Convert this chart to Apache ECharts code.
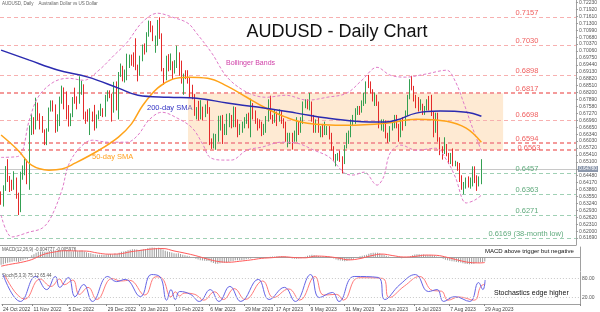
<!DOCTYPE html>
<html><head><meta charset="utf-8">
<script src="https://cdn.jsdelivr.net/npm/echarts@6/dist/echarts.min.js"></script>
<style>html,body{margin:0;padding:0;background:#fff}#c{width:600px;height:312px}</style>
</head><body><div id="c"></div>
<script>
// ---- price data (daily bars from 24 Oct 2022 to 29 Aug 2023) ----
const opens=[.6365,.6335,.6392,.6476,.6434,.6425,.6397,.6420,.6356,.6294,.6453,.6484,.6495,.6425,.6665,.6703,.6668,.6745,.6717,.6678,
.6650,.6590,.6650,.6743,.6765,.6742,.6656,.6706,.6791,.6822,.6790,.6711,.6678,.6723,.6797,.6795,.6777,.6848,.6852,.6705,
.6700,.6695,.6720,.6702,.6673,.6712,.6730,.6745,.6718,.6797,.6812,.6805,.6733,.6862,.6743,.6905,.6928,.6888,.6903,.6960,
.6975,.6960,.6945,.6930,.6897,.6970,.7026,.7020,.7082,.7115,.7105,.7055,.7056,.7140,.7075,.6922,.6892,.6960,.6935,.6950,
.6910,.6960,.6990,.6930,.6870,.6900,.6893,.6877,.6815,.6800,.6730,.6740,.6725,.6745,.6730,.6750,.6740,.6590,.6575,.6600,
.6635,.6680,.6690,.6640,.6643,.6690,.6715,.6673,.6730,.6668,.6640,.6665,.6672,.6690,.6720,.6688,.6770,.6735,.6700,.6685,
.6680,.6650,.6665,.6700,.6780,.6710,.6700,.6725,.6710,.6725,.6690,.6680,.6610,.6620,.6628,.6610,.6630,.6660,.6648,.6690,
.6770,.6780,.6760,.6765,.6705,.6650,.6685,.6650,.6660,.6640,.6650,.6655,.6630,.6570,.6525,.6530,.6538,.6520,.6505,.6575,
.6620,.6625,.6695,.6705,.6740,.6745,.6738,.6765,.6775,.6865,.6860,.6825,.6795,.6802,.6775,.6670,.6680,.6690,.6620,.6612,
.6665,.6670,.6715,.6670,.6630,.6690,.6685,.6725,.6800,.6870,.6840,.6795,.6780,.6750,.6765,.6730,.6755,.6790,.6760,.6730,
.6650,.6725,.6610,.6565,.6560,.6575,.6545,.6515,.6535,.6500,.6505,.6480,.6425,.6395,.6400,.6410,.6402,.6415,.6480,.6420,
.6415,.6425];
const highs=[.6378,.6405,.6491,.6522,.6447,.6430,.6468,.6440,.6372,.6466,.6494,.6530,.6520,.6673,.6723,.6710,.6797,.6775,.6727,.6715,
.6655,.6660,.6753,.6785,.6785,.6767,.6723,.6802,.6851,.6843,.6825,.6764,.6727,.6800,.6842,.6803,.6893,.6873,.6857,.6735,
.6745,.6750,.6735,.6765,.6722,.6740,.6770,.6750,.6810,.6830,.6830,.6815,.6868,.6870,.6912,.6950,.6940,.6923,.6994,.6990,
.6990,.7000,.7063,.6945,.6985,.7035,.7040,.7090,.7142,.7140,.7120,.7075,.7145,.7157,.7085,.6930,.6985,.6992,.6995,.6960,
.6965,.7030,.7000,.6963,.6905,.6920,.6920,.6890,.6855,.6813,.6755,.6783,.6786,.6757,.6767,.6785,.6755,.6615,.6637,.6635,
.6716,.6717,.6720,.6680,.6725,.6728,.6720,.6758,.6755,.6700,.6680,.6690,.6710,.6725,.6730,.6793,.6773,.6740,.6705,.6700,
.6690,.6680,.6715,.6790,.6806,.6720,.6745,.6735,.6745,.6740,.6705,.6690,.6640,.6640,.6640,.6650,.6710,.6690,.6710,.6780,
.6790,.6790,.6818,.6780,.6720,.6700,.6710,.6670,.6680,.6690,.6670,.6670,.6640,.6580,.6545,.6550,.6560,.6535,.6585,.6640,
.6650,.6700,.6720,.6750,.6760,.6760,.6785,.6820,.6870,.6899,.6870,.6835,.6820,.6810,.6780,.6700,.6700,.6695,.6640,.6670,
.6690,.6720,.6720,.6680,.6700,.6710,.6740,.6810,.6880,.6895,.6850,.6810,.6800,.6790,.6770,.6760,.6790,.6805,.6810,.6735,
.6730,.6730,.6620,.6580,.6620,.6590,.6550,.6550,.6570,.6515,.6510,.6505,.6450,.6420,.6440,.6445,.6440,.6490,.6490,.6450,
.6445,.6522];
const lows=[.6318,.6310,.6380,.6420,.6375,.6380,.6385,.6345,.6272,.6285,.6430,.6450,.6410,.6385,.6630,.6633,.6655,.6695,.6655,.6640,
.6585,.6585,.6645,.6735,.6735,.6640,.6645,.6670,.6770,.6745,.6700,.6668,.6670,.6710,.6770,.6745,.6770,.6810,.6700,.6680,
.6690,.6630,.6690,.6650,.6660,.6700,.6715,.6710,.6712,.6780,.6795,.6690,.6730,.6740,.6700,.6890,.6870,.6865,.6875,.6930,
.6940,.6935,.6920,.6870,.6895,.6960,.6990,.7000,.7070,.7090,.7050,.6998,.7030,.7060,.6915,.6855,.6875,.6915,.6920,.6880,
.6905,.6930,.6895,.6860,.6810,.6880,.6860,.6800,.6790,.6716,.6700,.6695,.6700,.6695,.6710,.6725,.6585,.6568,.6570,.6564,
.6600,.6650,.6590,.6630,.6630,.6665,.6660,.6665,.6665,.6620,.6630,.6640,.6660,.6680,.6660,.6620,.6700,.6680,.6650,.6660,
.6625,.6630,.6640,.6690,.6700,.6680,.6685,.6670,.6690,.6680,.6660,.6600,.6575,.6590,.6565,.6600,.6600,.6630,.6640,.6680,
.6750,.6745,.6740,.6690,.6640,.6640,.6640,.6620,.6620,.6630,.6630,.6610,.6560,.6515,.6490,.6515,.6510,.6458,.6500,.6570,
.6590,.6620,.6670,.6680,.6720,.6720,.6730,.6760,.6770,.6840,.6815,.6780,.6760,.6760,.6660,.6650,.6645,.6615,.6595,.6600,
.6650,.6660,.6660,.6600,.6620,.6650,.6670,.6715,.6790,.6830,.6780,.6750,.6735,.6740,.6720,.6720,.6740,.6740,.6715,.6620,
.6640,.6600,.6540,.6520,.6545,.6535,.6500,.6500,.6490,.6490,.6470,.6420,.6385,.6365,.6390,.6395,.6390,.6400,.6415,.6380,
.6400,.6410];
const closes=[.6335,.6392,.6476,.6434,.6425,.6397,.6420,.6356,.6294,.6453,.6484,.6495,.6425,.6665,.6703,.6668,.6745,.6717,.6678,.6650,
.6590,.6650,.6743,.6765,.6742,.6656,.6706,.6791,.6822,.6790,.6711,.6678,.6723,.6797,.6795,.6777,.6848,.6852,.6705,.6700,
.6695,.6720,.6702,.6673,.6712,.6730,.6745,.6718,.6797,.6812,.6805,.6733,.6862,.6743,.6905,.6928,.6888,.6903,.6960,.6975,
.6960,.6945,.6930,.6897,.6970,.7026,.7020,.7082,.7115,.7105,.7055,.7056,.7140,.7075,.6922,.6892,.6960,.6935,.6950,.6910,
.6960,.6990,.6930,.6870,.6900,.6893,.6877,.6815,.6800,.6730,.6740,.6725,.6745,.6730,.6750,.6740,.6590,.6575,.6600,.6635,
.6680,.6690,.6640,.6643,.6690,.6715,.6673,.6730,.6668,.6640,.6665,.6672,.6690,.6720,.6688,.6770,.6735,.6700,.6685,.6680,
.6650,.6665,.6700,.6780,.6710,.6700,.6725,.6710,.6725,.6690,.6680,.6610,.6620,.6628,.6610,.6630,.6660,.6648,.6690,.6770,
.6780,.6760,.6765,.6705,.6650,.6685,.6650,.6660,.6640,.6650,.6655,.6630,.6570,.6525,.6530,.6538,.6520,.6505,.6575,.6620,
.6625,.6695,.6705,.6740,.6745,.6738,.6765,.6775,.6865,.6860,.6825,.6795,.6802,.6775,.6670,.6680,.6690,.6620,.6612,.6665,
.6670,.6715,.6670,.6630,.6690,.6685,.6725,.6800,.6870,.6840,.6795,.6780,.6750,.6765,.6730,.6755,.6790,.6760,.6730,.6650,
.6725,.6610,.6565,.6560,.6575,.6545,.6515,.6535,.6500,.6505,.6480,.6425,.6395,.6400,.6410,.6402,.6415,.6480,.6420,.6415,
.6425,.6478];

// ---- x axis tick labels ----
const tickLabels=['24 Oct 2022','11 Nov 2022','5 Dec 2022','29 Dec 2022','19 Jan 2023','10 Feb 2023','6 Mar 2023','29 Mar 2023','17 Apr 2023','9 May 2023','31 May 2023','22 Jun 2023','14 Jul 2023','7 Aug 2023','29 Aug 2023'];
const tickBars=[0,14,30,48,63,79,95,111,125,141,157,173,189,205,221];
const totalSlots=265;

// ---- horizontal levels ----
const resistanceLevels=[0.7157,0.7030,0.6898,0.6817,0.6698,0.6594,0.6563];
const supportLevels=[0.6457,0.6363,0.6271,0.6169];
const supportTexts=['0.6457','0.6363','0.6271','0.6169 (38-month low)'];
const currentPrice=0.6478;
const rangeBox={fromBar:86,toBar:231,top:0.6817,bottom:0.6563};

// ---- indicator readings (bar index, value) ----
const sma200=[[0,0.7010],[13,0.6965],[26,0.6921],[40,0.6889],[54,0.6840],[63,0.6808],[77,0.6799],[90,0.6795],[104,0.6773],[118,0.6755],[136,0.6728],[150,0.6706],[163,0.6692],[177,0.6688],[182,0.6697],[191,0.6728],[202,0.6737],[214,0.6732],[221,0.6714]];
const sma50=[[0,0.6630],[8,0.6560],[14,0.6495],[22,0.6473],[28,0.6478],[34,0.6504],[45,0.6562],[54,0.6621],[60,0.6680],[65,0.6760],[72,0.6840],[79,0.6880],[86,0.6889],[95,0.6884],[104,0.6849],[113,0.6799],[122,0.6750],[131,0.6710],[141,0.6683],[159,0.6674],[177,0.6683],[191,0.6701],[205,0.6692],[214,0.6661],[221,0.6598]];
const bbUpper=[[0,0.6530],[8,0.6535],[13,0.6697],[17,0.6799],[24,0.6866],[31,0.6884],[38,0.6875],[45,0.6920],[52,0.6987],[58,0.7045],[65,0.7135],[72,0.7175],[79,0.7157],[86,0.7130],[90,0.7085],[97,0.6996],[104,0.6889],[113,0.6822],[122,0.6799],[131,0.6808],[141,0.6786],[150,0.6799],[159,0.6817],[166,0.6875],[173,0.6933],[179,0.6898],[186,0.6889],[195,0.6902],[205,0.6920],[209,0.6870],[213,0.6770],[217,0.6660],[221,0.6560]];
const bbLower=[[0,0.6272],[5,0.6174],[13,0.6196],[19,0.6214],[23,0.6263],[28,0.6384],[31,0.6495],[36,0.6571],[42,0.6607],[49,0.6598],[58,0.6598],[63,0.6630],[68,0.6697],[74,0.6732],[81,0.6706],[88,0.6661],[93,0.6585],[96,0.6531],[102,0.6518],[106,0.6518],[113,0.6562],[120,0.6576],[129,0.6598],[136,0.6594],[144,0.6562],[151,0.6531],[158,0.6460],[162,0.6451],[167,0.6464],[173,0.6406],[176,0.6442],[179,0.6549],[184,0.6585],[191,0.6562],[200,0.6571],[205,0.6518],[209,0.6442],[214,0.6326],[218,0.6339],[221,0.6361]];

const macdHist=[-0.0085,-0.0080,-0.0068,-0.0062,-0.0056,-0.0052,-0.0047,-0.0048,-0.0054,-0.0044,
-0.0034,-0.0025,-0.0024,-0.0002,0.0018,0.0031,0.0047,0.0056,0.0060,0.0061,
0.0057,0.0058,0.0066,0.0073,0.0076,0.0071,0.0070,0.0075,0.0080,0.0080,
0.0073,0.0065,0.0061,0.0063,0.0064,0.0063,0.0068,0.0071,0.0061,0.0052,
0.0044,0.0040,0.0034,0.0027,0.0025,0.0024,0.0024,0.0021,0.0026,0.0031,
0.0033,0.0028,0.0037,0.0032,0.0045,0.0056,0.0061,0.0066,0.0073,0.0080,
0.0083,0.0084,0.0082,0.0077,0.0079,0.0085,0.0088,0.0094,0.0100,0.0102,
0.0100,0.0097,0.0101,0.0098,0.0082,0.0067,0.0061,0.0054,0.0049,0.0041,
0.0039,0.0040,0.0034,0.0024,0.0019,0.0014,0.0009,0.0000,-0.0008,-0.0020,
-0.0028,-0.0035,-0.0038,-0.0042,-0.0043,-0.0044,-0.0057,-0.0066,-0.0072,-0.0072,
-0.0068,-0.0063,-0.0062,-0.0060,-0.0054,-0.0047,-0.0044,-0.0036,-0.0035,-0.0036,
-0.0033,-0.0030,-0.0025,-0.0019,-0.0017,-0.0008,-0.0005,-0.0005,-0.0006,-0.0007,
-0.0010,-0.0010,-0.0006,0.0004,0.0006,0.0006,0.0008,0.0008,0.0009,0.0006,
0.0002,-0.0006,-0.0011,-0.0015,-0.0019,-0.0019,-0.0016,-0.0014,-0.0008,0.0004,
0.0014,0.0020,0.0025,0.0023,0.0016,0.0012,0.0006,0.0003,-0.0001,-0.0004,
-0.0005,-0.0009,-0.0017,-0.0027,-0.0034,-0.0038,-0.0042,-0.0046,-0.0043,-0.0036,
-0.0030,-0.0019,-0.0010,0.0000,0.0008,0.0014,0.0020,0.0025,0.0036,0.0044,
0.0046,0.0046,0.0045,0.0042,0.0030,0.0021,0.0015,0.0005,-0.0003,-0.0006,
-0.0008,-0.0006,-0.0008,-0.0013,-0.0011,-0.0009,-0.0003,0.0007,0.0020,0.0028,
0.0030,0.0030,0.0028,0.0027,0.0023,0.0021,0.0022,0.0020,0.0015,0.0005,
0.0004,-0.0007,-0.0019,-0.0029,-0.0034,-0.0040,-0.0047,-0.0050,-0.0055,-0.0057,
-0.0061,-0.0067,-0.0074,-0.0077,-0.0078,-0.0077,-0.0074,-0.0065,-0.0062,-0.0058,
-0.0054,-0.0048];
const macdSignal=[[0,-0.0100],[4,-0.0080],[9,-0.0059],[14,-0.0028],[19,0.0025],[24,0.0053],[29,0.0068],[34,0.0066],[39,0.0064],[44,0.0044],[49,0.0031],[54,0.0034],[59,0.0056],[64,0.0073],[69,0.0087],[74,0.0092],[79,0.0066],[84,0.0042],[89,0.0014],[94,-0.0020],[99,-0.0048],[104,-0.0057],[109,-0.0046],[114,-0.0032],[119,-0.0015],[124,-0.0007],[129,0.0003],[134,-0.0006],[139,-0.0009],[144,0.0010],[149,0.0005],[154,-0.0011],[159,-0.0031],[164,-0.0017],[169,0.0013],[174,0.0032],[179,0.0015],[184,0.0000],[189,0.0006],[194,0.0021],[199,0.0018],[204,-0.0005],[209,-0.0035],[214,-0.0059],[219,-0.0064],[221,-0.0060]];
const macdTicks=[0.010874,0,-0.0152];

const stochK=[[0,92],[8,8],[15,86],[20,45],[24,86],[26,52],[30,83],[33,23],[37,61],[41,8],[48,86],[52,70],[56,77],[63,23],[68,92],[72,85],[75,12],[77,45],[79,14],[81,39],[86,30],[90,8],[95,45],[99,8],[104,55],[109,8],[117,77],[122,14],[129,52],[134,8],[141,92],[145,20],[151,36],[154,8],[161,86],[172,83],[175,14],[182,61],[189,92],[195,39],[199,45],[202,8],[207,23],[214,8],[218,67],[220,45],[221,75]];
const stochD=[[1,88],[10,15],[17,78],[22,55],[26,78],[28,60],[32,75],[35,30],[39,52],[43,14],[50,80],[54,72],[58,74],[65,28],[70,85],[73,80],[77,22],[79,38],[81,25],[83,34],[88,30],[92,12],[97,38],[101,14],[106,48],[111,14],[119,72],[124,20],[131,47],[136,12],[143,86],[147,28],[153,30],[156,12],[163,82],[174,80],[177,20],[184,56],[191,86],[197,42],[201,40],[204,12],[209,22],[216,12],[219,55],[221,62]];
const stochTicks=[100,80,20,0];

// ---- build ----
const FONT='"Liberation Sans", Arial, sans-serif';
const cats=[]; for(let i=0;i<totalSlots;i++){const k=tickBars.indexOf(i);cats.push(k>=0?tickLabels[k]:'');}
const candles=opens.map((o,i)=>[o,closes[i],lows[i],highs[i]]);
const isTick=(i)=>tickBars.indexOf(i)>=0;

const REDTXT='#f06060', GRN='#9fd0b4', GRNTXT='#5faa7c';
const lvlLines=[];
resistanceLevels.forEach(v=>{
  const thick=(v===0.6817||v===0.6594||v===0.6563);
  lvlLines.push({yAxis:v,lineStyle:{color:thick?'#f49a9a':'#f7b0b0',type:[4,3],width:thick?2:1},
    label:{show:true,position:'insideEndTop',formatter:v.toFixed(4),color:REDTXT,fontSize:7.5,fontFamily:FONT,distance:v===0.6563?-1.5:0.5,padding:[0,37,0,0]}});
  lvlLines.push({yAxis:v,lineStyle:{opacity:0},
    label:{show:true,position:'end',distance:2,formatter:v.toFixed(5),color:'#fff',backgroundColor:'#f03030',fontSize:5,fontFamily:FONT,padding:[1,1,0,1]}});
});
supportLevels.forEach((v,i)=>{
  lvlLines.push({yAxis:v,lineStyle:{color:GRN,type:[4,3],width:1},
    label:{show:true,position:'insideEndTop',formatter:supportTexts[i],color:GRNTXT,fontSize:7.5,fontFamily:FONT,distance:0.5,padding:[0,i===3?12:37,0,0]}});
  lvlLines.push({yAxis:v,lineStyle:{opacity:0},
    label:{show:true,position:'end',distance:2,formatter:v.toFixed(5),color:'#fff',backgroundColor:'#3f9a62',fontSize:5,fontFamily:FONT,padding:[1,1,0,1]}});
});
lvlLines.push({yAxis:currentPrice,lineStyle:{color:'#c8c8c8',type:'solid',width:1},
  label:{show:true,position:'end',distance:2,formatter:currentPrice.toFixed(5),color:'#fff',backgroundColor:'#8b97ab',fontSize:5,fontFamily:FONT,padding:[1,1,0,1]}});

const tickMark=(vals,fmt,showLine)=>vals.map(v=>({yAxis:v,lineStyle:showLine&&(v===80||v===20)?{color:'#c8c8c8',type:[1,2],width:1}:{opacity:0},
  label:{show:true,position:'end',distance:2,formatter:fmt(v),color:'#555',fontSize:5,fontFamily:FONT}}));

const gridCommon={left:0,right:20};
const xBase=(gi,showLabels)=>({type:'category',gridIndex:gi,data:cats,boundaryGap:true,
  axisLine:{show:true,lineStyle:{color:'#a0a0a0',width:1}},
  axisTick:{show:showLabels,interval:(i)=>isTick(i),length:2,lineStyle:{color:'#888'}},
  axisLabel:{show:showLabels,interval:(i)=>isTick(i),fontSize:5,color:'#444',align:'left',margin:3,fontFamily:FONT},
  splitLine:{show:false}});

const chart=echarts.init(document.getElementById('c'),null,{renderer:'canvas'});
chart.setOption({
  animation:false,
  backgroundColor:'#ffffff',
  grid:[Object.assign({top:0,height:245},gridCommon),Object.assign({top:247,height:24},gridCommon),Object.assign({top:272,height:32},gridCommon)],
  xAxis:[xBase(0,false),xBase(1,false),xBase(2,true)],
  yAxis:[
    {type:'value',gridIndex:0,position:'right',min:0.6138,max:0.7233,interval:0.0031,
      axisLine:{show:true,lineStyle:{color:'#a0a0a0'}},axisTick:{show:true,length:2,lineStyle:{color:'#999'}},
      axisLabel:{fontSize:5,color:'#555',margin:3,fontFamily:FONT,showMaxLabel:false,showMinLabel:false,formatter:(v)=>v.toFixed(5)},splitLine:{show:false}},
    {type:'value',gridIndex:1,position:'right',min:-0.0152,max:0.010874,axisLine:{show:true,lineStyle:{color:'#a0a0a0'}},axisLabel:{show:false},axisTick:{show:false},splitLine:{show:false}},
    {type:'value',gridIndex:2,position:'right',min:0,max:100,axisLine:{show:true,lineStyle:{color:'#a0a0a0'}},axisLabel:{show:false},axisTick:{show:false},splitLine:{show:false}}
  ],
  series:[
    {type:'candlestick',xAxisIndex:0,yAxisIndex:0,data:candles,barWidth:1.2,z:3,
      itemStyle:{color:'#34a052',color0:'#e42a2a',borderColor:'#34a052',borderColor0:'#e42a2a',borderWidth:1},
      markArea:{silent:true,z:1,itemStyle:{color:'rgba(252,200,140,0.38)'},
        data:[[{xAxis:rangeBox.fromBar,yAxis:rangeBox.top},{xAxis:rangeBox.toBar,yAxis:rangeBox.bottom}]]},
      markLine:{silent:true,z:1,precision:6,symbol:['none','none'],animation:false,data:lvlLines}},
    {type:'line',xAxisIndex:0,yAxisIndex:0,data:bbUpper,showSymbol:false,smooth:0.35,z:4,lineStyle:{color:'#e07ac8',width:1,type:[3,2]}},
    {type:'line',xAxisIndex:0,yAxisIndex:0,data:bbLower,showSymbol:false,smooth:0.35,z:4,lineStyle:{color:'#e07ac8',width:1,type:[3,2]}},
    {type:'line',xAxisIndex:0,yAxisIndex:0,data:sma50,showSymbol:false,smooth:0.4,z:5,lineStyle:{color:'#ffa31a',width:1.5}},
    {type:'line',xAxisIndex:0,yAxisIndex:0,data:sma200,showSymbol:false,smooth:0.4,z:5,lineStyle:{color:'#2b2bb0',width:1.5}},
    {type:'bar',xAxisIndex:1,yAxisIndex:1,data:macdHist,barWidth:1,itemStyle:{color:'#9c9c9c'},
      markLine:{silent:true,precision:6,symbol:['none','none'],data:tickMark(macdTicks,(v)=>v.toFixed(6),false)}},
    {type:'line',xAxisIndex:1,yAxisIndex:1,data:macdSignal,showSymbol:false,smooth:0.4,z:4,lineStyle:{color:'#ff5a5a',width:1}},
    {type:'line',xAxisIndex:2,yAxisIndex:2,data:stochD,showSymbol:false,smooth:0.45,lineStyle:{color:'#ff7a7a',width:1},
      markLine:{silent:true,precision:2,symbol:['none','none'],data:tickMark(stochTicks,(v)=>v.toFixed(2),true)}},
    {type:'line',xAxisIndex:2,yAxisIndex:2,data:stochK,showSymbol:false,smooth:0.45,lineStyle:{color:'#6464e6',width:1}}
  ],
  graphic:[
    {type:'text',x:337,y:32,style:{text:'AUDUSD - Daily Chart',font:'18px '+FONT,fill:'#111',textAlign:'center',textVerticalAlign:'middle',align:'center',verticalAlign:'middle'}},
    {type:'text',x:2,y:4,style:{text:'AUDUSD, Daily    Australian Dollar vs US Dollar',font:'4.5px '+FONT,fill:'#666',textVerticalAlign:'middle',verticalAlign:'middle'}},
    {type:'text',x:226,y:63,style:{text:'Bollinger Bands',font:'7px '+FONT,fill:'#d040a8',textVerticalAlign:'middle',verticalAlign:'middle'}},
    {type:'text',x:147,y:108,style:{text:'200-day SMA',font:'7.5px '+FONT,fill:'#3434c4',textVerticalAlign:'middle',verticalAlign:'middle'}},
    {type:'text',x:92,y:157,style:{text:'50-day SMA',font:'7.5px '+FONT,fill:'#ffa020',textVerticalAlign:'middle',verticalAlign:'middle'}},
    {type:'text',x:2,y:250,style:{text:'MACD(12,26,9) -0.004777 -0.005976',font:'4.5px '+FONT,fill:'#555',textVerticalAlign:'middle',verticalAlign:'middle'}},
    {type:'text',x:2,y:275.5,style:{text:'Stoch(5,3,3) 75.12 65.44',font:'4.5px '+FONT,fill:'#555',textVerticalAlign:'middle',verticalAlign:'middle'}},
    {type:'text',x:485,y:251.5,style:{text:'MACD above trigger but negative',font:'6px '+FONT,fill:'#111',textVerticalAlign:'middle',verticalAlign:'middle'}},
    {type:'text',x:494,y:293,style:{text:'Stochastics edge higher',font:'7px '+FONT,fill:'#111',textVerticalAlign:'middle',verticalAlign:'middle'}}
  ]
});
</script></body></html>
